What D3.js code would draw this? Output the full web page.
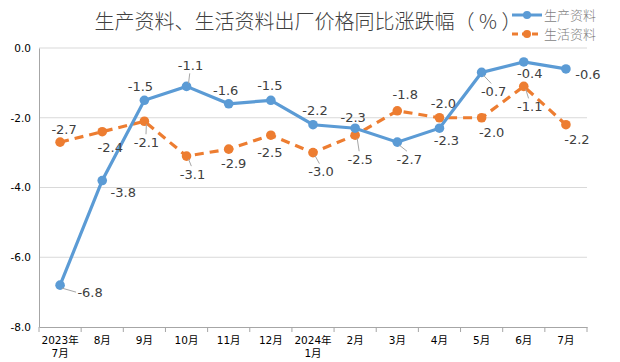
<html>
<head>
    <script src="https://cdn.jsdelivr.net/npm/d3@7"></script>
    <style>
        body { margin: 0; background: white; font-family: "DejaVu Sans", "Noto Sans CJK SC", sans-serif; }
        svg { display: block; }
    </style>
</head>
<body>
<svg id="chart"></svg>
<script>
    // categories (two line labels)
    let months = [
        ["2023年", "7月"], ["8月"], ["9月"], ["10月"], ["11月"], ["12月"],
        ["2024年", "1月"], ["2月"], ["3月"], ["4月"], ["5月"], ["6月"], ["7月"]
    ];
    let production = [-6.8, -3.8, -1.5, -1.1, -1.6, -1.5, -2.2, -2.3, -2.7, -2.3, -0.7, -0.4, -0.6];
    let living = [-2.7, -2.4, -2.1, -3.1, -2.9, -2.5, -3.0, -2.5, -1.8, -2.0, -2.0, -1.1, -2.2];
    let yTicks = [0, -2, -4, -6, -8];
    let seriesNames = ["生产资料", "生活资料"];

    // label placement relative to the point [dx, dy, leader line?]
    let prodLabelPos = [[30, 7, 1], [21, 12, 0], [-4, -14, 0], [4, -21, 1], [-3, -13, 0], [-1, -15, 0],
        [2, -14, 0], [-2, -11, 0], [12, 17, 1], [7, 12, 0], [12, 19, 1], [6, 11, 0], [22, 6, 0]];
    let livLabelPos = [[4, -13, 0], [8, 16, 0], [2, 21, 1], [6, 18, 1], [5, 14, 0], [-1, 17, 0],
        [8, 19, 1], [5, 24, 1], [8, -16, 0], [4, -14, 0], [10, 15, 0], [6, 20, 1], [11, 15, 0]];

    let width = 620, height = 362;
    let margin = { top: 48, left: 39, right: 33, bottom: 35 };
    let bodyWidth = width - margin.left - margin.right;
    let bodyHeight = height - margin.top - margin.bottom;

    // plain hyphen instead of the unicode minus
    let fmt = d => d3.format(".1f")(d).replace("\u2212", "-");

    let svg = d3.select("#chart").attr("width", width).attr("height", height);

    let xScale = d3.scaleBand()
        .domain(d3.range(months.length))
        .range([margin.left, margin.left + bodyWidth]);
    let yScale = d3.scaleLinear()
        .domain([-8, 0])
        .range([margin.top + bodyHeight, margin.top]);

    // title
    svg.append("text")
        .attr("x", 308).attr("y", 29)
        .attr("text-anchor", "middle")
        .style("font-family", "'Noto Sans CJK SC'")
        .style("font-size", "20px")
        .style("font-weight", 300)
        .style("fill", "#404040")
        .text("生产资料、生活资料出厂价格同比涨跌幅（ % ）");

    // grid
    svg.append("g")
        .selectAll("line")
        .data(yTicks.filter(d => d != -8))
        .enter().append("line")
        .attr("x1", margin.left).attr("x2", margin.left + bodyWidth)
        .attr("y1", d => yScale(d)).attr("y2", d => yScale(d))
        .style("stroke", "#d9d9d9").style("stroke-width", 1);

    // y axis
    let axisY = d3.axisLeft(yScale).tickValues(yTicks).tickSize(0).tickPadding(8)
        .tickFormat(fmt);
    let gy = svg.append("g")
        .attr("transform", `translate(${margin.left},0)`)
        .call(axisY);
    gy.select(".domain").style("stroke", "#a6a6a6");
    gy.selectAll("text").style("font-size", "10.5px").style("fill", "#000")
        .style("font-family", "'DejaVu Sans'");

    // x axis
    let axisX = d3.axisBottom(xScale).tickSize(0).tickFormat("");
    let gx = svg.append("g")
        .attr("transform", `translate(0,${margin.top + bodyHeight})`)
        .call(axisX);
    gx.select(".domain").style("stroke", "#a6a6a6");
    gx.selectAll(".sep")
        .data(d3.range(months.length + 1))
        .enter().append("line")
        .attr("class", "sep")
        .attr("x1", i => margin.left + i * xScale.step())
        .attr("x2", i => margin.left + i * xScale.step())
        .attr("y1", 0).attr("y2", 5)
        .style("stroke", "#a6a6a6");

    let xLabels = svg.append("g").selectAll("text")
        .data(months)
        .enter().append("text")
        .attr("x", (d, i) => xScale(i) + xScale.bandwidth() / 2)
        .attr("y", margin.top + bodyHeight + 17)
        .attr("text-anchor", "middle")
        .style("font-size", "10.5px")
        .style("fill", "#000");
    xLabels.selectAll("tspan")
        .data(d => d)
        .enter().append("tspan")
        .attr("x", function () { return this.parentNode.getAttribute("x"); })
        .attr("dy", (d, i) => i == 0 ? 0 : 13)
        .text(d => d);

    let line = d3.line()
        .x((d, i) => xScale(i) + xScale.bandwidth() / 2)
        .y(d => yScale(d));

    function drawSeries(values, color, dash) {
        let g = svg.append("g");
        g.append("path")
            .datum(values)
            .attr("d", line)
            .style("fill", "none")
            .style("stroke", color)
            .style("stroke-width", 3.2)
            .style("stroke-dasharray", dash);
        g.selectAll("circle")
            .data(values)
            .enter().append("circle")
            .attr("cx", (d, i) => xScale(i) + xScale.bandwidth() / 2)
            .attr("cy", d => yScale(d))
            .attr("r", 4.8)
            .style("fill", color);
        return g;
    }

    function drawLabels(values, labelPos) {
        let g = svg.append("g");
        values.forEach((v, i) => {
            let px = xScale(i) + xScale.bandwidth() / 2;
            let py = yScale(v);
            let [dx, dy, leader] = labelPos[i];
            if (leader) {
                let lx, ly;
                if (Math.abs(dx) > 20) { lx = px + dx - 14; ly = py + dy; }
                else { lx = px + dx * 0.8; ly = py + dy - Math.sign(dy) * 8; }
                g.append("line")
                    .attr("x1", px + Math.sign(dx) * 2).attr("y1", py + Math.sign(dy) * 3)
                    .attr("x2", lx).attr("y2", ly)
                    .style("stroke", "#a6a6a6").style("stroke-width", 1);
            }
            g.append("text")
                .attr("x", px + dx).attr("y", py + dy)
                .attr("dy", "0.35em")
                .attr("text-anchor", "middle")
                .style("font-size", "13px")
                .style("fill", "#404040")
                .text(fmt(v));
        });
    }

    drawSeries(living, "#ED7D31", "9,6");
    drawSeries(production, "#5B9BD5", null);
    drawLabels(production, prodLabelPos);
    drawLabels(living, livLabelPos);

    // legend
    let legend = svg.selectAll(".legend")
        .data(seriesNames)
        .enter().append("g")
        .attr("class", "legend")
        .attr("transform", (d, i) => `translate(512,${15 + i * 19})`);
    legend.append("line")
        .attr("x1", 0).attr("x2", 30).attr("y1", 0).attr("y2", 0)
        .style("stroke", (d, i) => i == 0 ? "#5B9BD5" : "#ED7D31")
        .style("stroke-width", 3)
        .style("stroke-dasharray", (d, i) => i == 0 ? null : "6,4");
    legend.append("circle")
        .attr("cx", 15).attr("r", 4)
        .style("fill", (d, i) => i == 0 ? "#5B9BD5" : "#ED7D31");
    legend.append("text")
        .attr("x", 32).attr("y", 0).attr("dy", "0.35em")
        .style("font-family", "'Noto Sans CJK SC'")
        .style("font-weight", 300)
        .style("font-size", "13px")
        .style("fill", "#7f7f7f")
        .text(d => d);
</script>
</body>
</html>
